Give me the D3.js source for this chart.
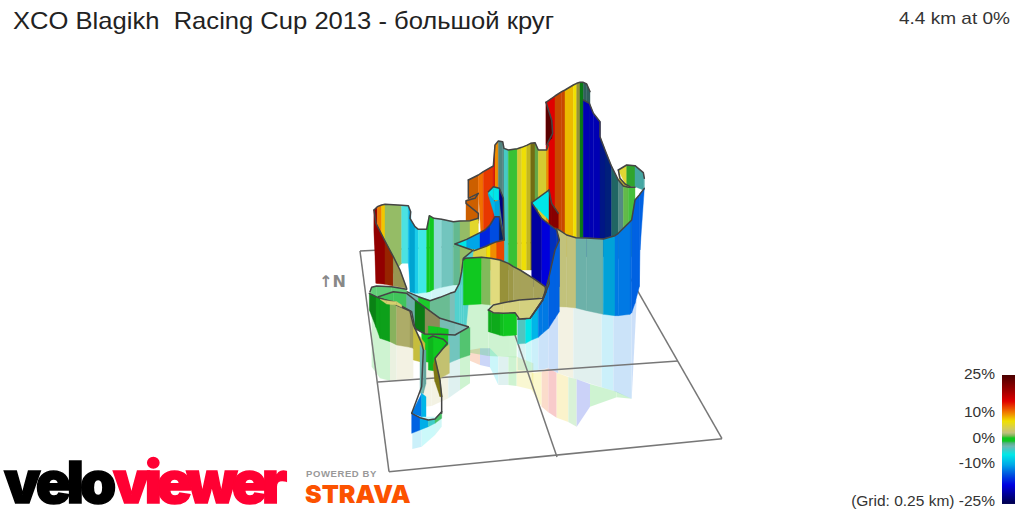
<!DOCTYPE html>
<html><head><meta charset="utf-8">
<style>html,body{margin:0;padding:0;background:#fff;overflow:hidden}text{font-family:"Liberation Sans",Arial,sans-serif}</style>
<script src="https://cdnjs.cloudflare.com/ajax/libs/d3/7.8.5/d3.min.js"></script>
</head><body><svg id="c" width="1024" height="512"></svg>
<script>
const gradStops=[-25,-21.7,-17.8,-13.8,-9.9,-5.9,-2.6,-1.3,-0.6,0,0.6,1.3,2.6,4.6,7.2,11,15,19,25];
const gradColors=["#00004d","#000090","#0000e0","#0050e0","#00a8e8","#00e8e8","#70b8b0","#50b080","#10c820","#10c820","#10c820","#70b850","#c0c080","#d8d050","#f0e000","#f07000","#e00000","#a00000","#4d0000"];
const legendLabels=["25%","10%","0%","-10%","(Grid: 0.25 km) -25%"];
const legendLabelY=[379,417,443,468,506];
const rfWallX=[150,215,290],rfWallT=[100,100,90],rfWallB=[152,150,120],rfWallG=[-6,-5];
const rfTallX=[515,545,565,590,625,650,690,770,815],rfTallT=[370,365,355,368,381,388,402,425,446],rfTallB=[420,470,487,503,516,530,470,442,446],rfTallG=[7,12,15,8,1,-16,0,0];
const rfMidX=[330,360,390,415,445,470,520],rfMidT=[300,295,295,320,320,320,340],rfMidB=[332,345,352,405,405,408,420],rfMidG=[12,-15,-7,-3,0.5,6];
const rfGreenX=[312,385,470],rfGreenT=[160,160,200],rfGreenB=[305,318,322],rfGreenG=[0,0];
const rfRightX=[473,497,515,535,565,595,640,725,760,815,830],rfRightT=[250,250,250,250,200,160,160,160,160,160,150],rfRightB=[360,362,362,360,355,370,385,412,422,446,150],rfRightG=[-3.5,-6,-9,-12,-13,3,-2.6,-9,-12,-13];
const rfLeftX=[35,60,90,110,160],rfLeftT=[180,230,260,270,280],rfLeftB=[350,385,392,392,385],rfLeftG=[0,0,2,3];
const rfCoreX=[190,215,265,300,330],rfCoreT=[300,320,320,300,300],rfCoreB=[470,468,445,420,400],rfCoreG=[3,3,-3,0];
const rfNarrowX=[157,185,225,245],rfNarrowT=[500,500,500,500],rfNarrowB=[597,590,555,530],rfNarrowG=[-9,-6,-5];
const curlX=[775,800,825,850,853],curlT=[-240,-255,-253,-232,-215],curlB=[-240,-190,-190,-180,-180],curlG=[5.5,0.9,-3.5,-3.5],curlL=[1,.85,.85,.85];
const curlInX=[775,780,795,810],curlInT=[-240,-215,-198,-190],curlInB=[-240,-188,-188,-188],curlInG=[5.5,5.5,5.5],curlInL=[.85,.85,.85];
const tallX=[558,585,605,615,640,650,660,670,680,690],tallT=[-443,-462,-475,-480,-495,-500,-503,-503,-498,-475],tallB=[20,20,20,20,20,20,20,20,20,20],tallG=[15,12,12,8.4,7.2,4.6,0,-3,-3],tallL=[1,.85,.85,.98,1,.7,.62,.5,.5];
const tallBX=[670,688,700,720,720,735,755,775,790,805,825],tallBT=[-450,-440,-410,-385,-340,-300,-250,-210,-192,-188,-188],tallBB=[20,20,20,20,20,20,20,20,20,20,20],tallBG=[-19,-19,-19,-19,-16,-15,-4,-2.6,1.2,1],tallBL=[.9,.9,.9,.9,.6,.55,.5,.75,1,1];
const foldX=[558,575,578],foldT=[-443,-390,-350],foldB=[-315,-335,-350],foldG=[24,24],foldL=[1,1];
const zigX=[318,355],zigT=[-148,-170],zigB=[-80,-80],zigG=[11],zigL=[.85];
const midX=[325,355,370,400,405,415,428,432,445,472,485,500,512,525,535,560,565],midT=[-210,-225,-235,-252,-315,-327,-325,-305,-300,-304,-308,-314,-320,-322,-300,-300,-315],midB=[-155,-170,60,60,60,60,60,60,60,60,60,60,60,60,60,60,60],midG=[11,11,13,16,10,-2.6,-2.6,-3.8,0.9,5.5,7,6,6,1.3,5.5,10],midL=[.85,1,1,1,1,.72,.72,1,1,.95,1,.85,.5,.9,.95,1];
const towerX=[590,620,648,680,730,765,775,810,815,825,838,840,853],towerT=[-65,-45,-37,-36,-33,-43,-50,-85,-90,-150,-165,-168,-185],towerB=[170,171,174,182,193,197,197,193,188,160,110,0,-185],towerG=[2.8,2.8,-2.6,-2.6,-9.5,-12,-12,-12.5,-13,-13,-13,-13],towerL=[1,1,.96,.96,.93,1,1,1,1,1,1,1];
const triX=[515,567],triT=[-142,-180],triB=[-142,-90],triG=[-6],triL=[1];
const brownX=[567,575,595],brownT=[-180,-140,-110],brownB=[-80,-70,-65],brownG=[17,17],brownL=[.7,.7];
const wallX=[515,545,570,590,598],wallT=[-142,-95,-75,-60,-30],wallB=[110,110,110,110,110],wallG=[-20,-18,-15,-15],wallL=[.9,1,.85,.85];
const backX=[42,52,65,75,125,145,152,150,165,175,200,208,222,245,280,300,330,355],backT=[-120,-130,-135,-137,-134,-133,-115,-95,-70,-62,-62,-103,-95,-92,-85,-87,-88,-95],backB=[-60,100,100,100,40,40,125,126,130,130,127,125,118,112,105,105,100,100],backG=[20,10.5,8,1.9,-5,-9,-9,-9,-8,-5.5,0,0.2,-3.5,-3,-1.4,1.9,5.8],backL=[1,1,1,1,1.2,1,.9,.9,1.1,1.2,1,1,1.35,1.1,1.1,1,1];
const redX=[42,48,75,100,120,140],redT=[-120,-80,-27,20,60,115],redB=[-60,100,103,108,112,115],redG=[20,20,13,3.5,3.5],redL=[1,1,.65,.75,.75];
const loopX=[385,400,418,430,432],loopT=[-175,-190,-185,-155,-30],loopB=[-170,-150,-150,-60,-30],loopG=[-6,-6,-20,-20],loopL=[1,1,.7,.7];
const loopCX=[385,405,418],loopCT=[-170,-145,-150],loopCB=[-165,-100,-60],loopCG=[-9,-9.5],loopCL=[1,.95];
const blueX=[285,320,360,375,390,405,418,432],blueT=[-18,-32,-52,-60,-75,-100,-100,-30],blueB=[-18,-5,0,-5,-10,-15,-22,-30],blueG=[-6,-10,-16,-16,-14,-14,-14],blueL=[1,1,1,1,1,1,.45];
const sunX=[335,380,392,410,432],sunT=[5,-12,-18,-25,-30],sunB=[60,60,60,60,60],sunG=[5,7.2,10,12.5],sunL=[1,1,1,1];
const greenX=[310,315,365,392,420,445,460,480,520,555,558],greenT=[30,25,22,25,30,40,50,60,85,110,125],greenB=[165,165,162,165,160,155,152,150,147,140,125],greenG=[0,0,1.6,4.5,4.5,4,3.4,3.4,3.4,3.4],greenL=[1,1,1,1.25,.7,.75,.82,.82,.82,.82];
const paleX=[385,400,430,465,478,510,548,558],paleT=[180,165,158,152,150,148,145,125],paleB=[180,188,190,188,207,205,150,125],paleG=[3.6,3.6,3.6,3.6,3.6,3.6,3.6],paleL=[1.15,1.15,1.15,1.15,1.15,1.15,1.15];
const lipX=[385,395,420,430,470],lipT=[180,188,190,190,188],lipB=[245,248,256,258,255],lipG=[0,0,0,0],lipL=[.85,.85,.95,1];
const frontX=[473,497,515,535,548,566,585,598],frontT=[207,206,198,170,150,85,0,-30],frontB=[282,280,270,262,250,235,205,185],frontG=[-3.5,-6,-9,-12,-12,-13,-13],frontL=[1,1,1,1,1,1,1];
const coreX=[140,175,210,240,270,285,298,305,310,340],coreT=[125,140,152,142,130,125,100,65,25,0],coreB=[175,210,250,255,320,330,325,320,320,0],coreG=[-2.6,-0.3,-1.3,-1.3,-2.6,-4,-4,-4,-4],coreL=[1,1.05,1.15,1.15,1.1,1.1,1.1,1.1,1.1];
const topStripX=[30,35,50,95,140],topStripT=[125,112,108,110,118],topStripB=[125,135,140,125,130],topStripG=[-0.9,-0.9,-0.9,-0.9],topStripL=[1.25,1.25,1.25,1.25];
const tailX=[185,265,300,330],tailT=[250,250,245,232],tailB=[335,340,325,315],tailG=[0,-3,-1],tailL=[1,1.1,1.15];
const bandX=[55,100,140,155,165,195,240,285,325],bandT=[140,125,130,142,150,172,205,218,230],bandB=[145,155,177,185,235,252,253,255,232],bandG=[-0.9,-0.9,-2.6,-2.6,0,2.8,-2.6,-2.6],bandL=[1.1,1.1,.95,.95,.62,.72,1.05,1.1];
const bandLowX=[205,235,265],bandLowT=[228,232,238],bandLowB=[252,253,254],bandLowG=[0,0],bandLowL=[1,1];
const spotX=[60,80,110,125],spotT=[148,152,155,165],spotB=[148,162,165,172],spotG=[4,4,4],spotL=[1.1,1.1,1.1];
const sideX=[28,48,60,90,110,150,160,165],sideT=[130,140,145,155,165,183,225,235],sideB=[180,232,265,275,285,292,295,300],sideG=[0,0,0,1.8,3,3,3],sideL=[.65,.8,.8,.95,.88,.8,.8];
const oliveX=[160,180,195],oliveT=[235,260,280],oliveB=[330,335,335],oliveG=[5,5],oliveL=[.9,.9];
const stemX=[180,190,198],stemT=[285,300,300],stemB=[430,430,400],stemG=[-2.6,-2.6],stemL=[1,.9];
const sprigX=[205,220,250,262],sprigT=[265,258,268,280],sprigB=[360,362,340,280],sprigG=[0,0,0],sprigL=[.9,1,1];
const flagX=[225,240,268],flagT=[325,305,283],flagB=[385,385,370],flagG=[3.2,3.2],flagL=[.98,.98];
const goldX=[220,225,240,247],goldT=[345,325,390,440],goldB=[355,395,440,440],goldG=[6,6,6],goldL=[.55,.55,.55];
const diveX=[155,185,198],diveT=[490,430,440],diveB=[490,500,500],diveG=[-12,-9],diveL=[1,1];
const footX=[155,180,205,225,245],footT=[490,503,510,507,485],footB=[550,540,530,520,505],footG=[-13,-9.5,-4,-1],footL=[1,1,1,1.1];
const edgeZig=[[325,-210],[325,-155],[355,-170],[345,-155],[318,-148],[318,-140],[355,-110],[355,-90]];
const edgeFold=[[558,-443],[575,-390],[578,-350],[560,-315]];
const edgeBlue=[[285,-18],[335,0]];
const edgeFront=[[566,85],[568,100],[548,150],[510,205]];
const edgeLoop=[[155,490],[185,410],[190,300],[185,280],[165,235]];
const edgeLoopR=[[205,265],[218,258],[250,268],[262,280],[225,325],[240,390],[245,440],[245,490]];
const title="XCO Blagikh  Racing Cup 2013 - большой круг";
const summary="4.4 km at 0%";
const svg=d3.select("#c");
const x=d3.scaleLinear().domain([0,900]).range([360,660]);
const y=d3.scaleLinear().domain([0,600]).range([250,450]);
const ramp=d3.scaleLinear().domain(gradStops).range(gradColors).clamp(true);
const shade=(g,l)=>l===1?ramp(g):d3.interpolateRgb(ramp(g),l<1?"#000":"#fff")(l<1?1-l:(l-1));
const bandShape=d3.area().x(d=>x(d.x)).y0(d=>y(d.t)).y1(d=>y(d.b));
const rim=d3.line().x(d=>x(d[0])).y(d=>y(d[1]));
function reflection(X,T,B,G){
  const g=svg.append("g").attr("opacity",.2);
  g.selectAll("path").data(G).join("path")
   .attr("d",(_,i)=>bandShape([{x:X[i],t:T[i],b:B[i]},{x:X[i+1],t:T[i+1],b:B[i+1]}]))
   .attr("fill",d=>ramp(d));
}
function ribbon(X,T,B,G,L,outlined=true){
  const g=svg.append("g");
  g.selectAll("path").data(G).join("path")
   .attr("d",(_,i)=>bandShape([{x:X[i],t:T[i],b:B[i]},{x:X[i+1],t:T[i+1],b:B[i+1]}]))
   .attr("fill",(d,i)=>shade(d,L[i])).attr("stroke",(d,i)=>shade(d,L[i])).attr("stroke-width",.4);
  if(outlined) edge(X.map((v,i)=>[v,T[i]]));
}
function edge(pts){
  svg.append("path").attr("d",rim(pts)).attr("fill","none").attr("stroke","#444").attr("stroke-width",1.5).attr("stroke-linejoin","round").attr("stroke-linecap","round");
}
reflection(rfWallX,rfWallT,rfWallB,rfWallG);
reflection(rfTallX,rfTallT,rfTallB,rfTallG);
reflection(rfMidX,rfMidT,rfMidB,rfMidG);
reflection(rfGreenX,rfGreenT,rfGreenB,rfGreenG);
reflection(rfRightX,rfRightT,rfRightB,rfRightG);
reflection(rfLeftX,rfLeftT,rfLeftB,rfLeftG);
reflection(rfCoreX,rfCoreT,rfCoreB,rfCoreG);
reflection(rfNarrowX,rfNarrowT,rfNarrowB,rfNarrowG);
const gridPts={left:[[0,3],[87,665]],back:[[0,3],[744,-33]],front:[[87,665],[1086,566]],mid:[[54,396],[954,333]],right:[[744,-33],[1086,566]],split:[[372,-15],[591,621]]};
Object.values(gridPts).forEach(p=>svg.append("path").attr("d",rim(p)).attr("fill","none").attr("stroke","#777").attr("stroke-width",1.5));
ribbon(curlX,curlT,curlB,curlG,curlL);
ribbon(curlInX,curlInT,curlInB,curlInG,curlInL);
ribbon(tallX,tallT,tallB,tallG,tallL);
ribbon(tallBX,tallBT,tallBB,tallBG,tallBL);
ribbon(foldX,foldT,foldB,foldG,foldL,false);
edge(edgeFold);
ribbon(zigX,zigT,zigB,zigG,zigL,false);
ribbon(midX,midT,midB,midG,midL);
edge(edgeZig);
ribbon(towerX,towerT,towerB,towerG,towerL);
ribbon(triX,triT,triB,triG,triL);
ribbon(brownX,brownT,brownB,brownG,brownL);
ribbon(wallX,wallT,wallB,wallG,wallL);
ribbon(backX,backT,backB,backG,backL);
ribbon(redX,redT,redB,redG,redL);
ribbon(loopX,loopT,loopB,loopG,loopL);
ribbon(loopCX,loopCT,loopCB,loopCG,loopCL,false);
ribbon(blueX,blueT,blueB,blueG,blueL);
ribbon(sunX,sunT,sunB,sunG,sunL);
edge(edgeBlue);
ribbon(coreX,coreT,coreB,coreG,coreL);
ribbon(greenX,greenT,greenB,greenG,greenL);
ribbon(lipX,lipT,lipB,lipG,lipL,false);
ribbon(frontX,frontT,frontB,frontG,frontL);
ribbon(paleX,paleT,paleB,paleG,paleL);
edge(paleX.map((v,i)=>[v,paleB[i]]));
edge(edgeFront);
ribbon(topStripX,topStripT,topStripB,topStripG,topStripL);
ribbon(tailX,tailT,tailB,tailG,tailL,false);
ribbon(bandX,bandT,bandB,bandG,bandL);
ribbon(bandLowX,bandLowT,bandLowB,bandLowG,bandLowL,false);
edge(bandX.map((v,i)=>[v,bandB[i]]));
ribbon(sideX,sideT,sideB,sideG,sideL);
ribbon(spotX,spotT,spotB,spotG,spotL,false);
ribbon(oliveX,oliveT,oliveB,oliveG,oliveL,false);
ribbon(stemX,stemT,stemB,stemG,stemL,false);
ribbon(sprigX,sprigT,sprigB,sprigG,sprigL,false);
ribbon(flagX,flagT,flagB,flagG,flagL,false);
ribbon(goldX,goldT,goldB,goldG,goldL,false);
ribbon(diveX,diveT,diveB,diveG,diveL,false);
ribbon(footX,footT,footB,footG,footL);
edge(edgeLoop);edge(edgeLoopR);
// header
svg.append("text").attr("x",13).attr("y",29).attr("font-size",24).attr("fill","#222").attr("textLength",541).attr("lengthAdjust","spacingAndGlyphs").style("white-space","pre").text(title);
svg.append("text").attr("x",899).attr("y",24).attr("font-size",17).attr("fill","#333").attr("textLength",111).attr("lengthAdjust","spacingAndGlyphs").text(summary);
svg.append("text").attr("x",319).attr("y",287).attr("font-size",16).attr("font-weight",700).attr("fill","#888").style("font-family","DejaVu Sans").text("↑N");
// legend
const lg=d3.scaleLinear().domain([25,-25]).range([375,503]);
svg.append("g").selectAll("rect").data(d3.range(25,-25,-.4)).join("rect")
 .attr("x",1002).attr("width",13).attr("y",d=>lg(d)).attr("height",2).attr("fill",d=>ramp(d));
svg.append("g").selectAll("text").data(legendLabels).join("text")
 .attr("x",995).attr("y",(d,i)=>legendLabelY[i]).attr("text-anchor","end").attr("font-size",15.5).attr("fill","#333").text(d=>d);
// logos
const brand=(t,xp,col,ls)=>svg.append("text").attr("x",xp).attr("y",503).attr("font-size",58).attr("font-weight",900).attr("fill",col).attr("stroke",col).attr("stroke-width",1.5).style("letter-spacing",ls+"px").style("font-family","Inter").text(t);
brand("velo",4,"#000",-4);
brand("viewer",113,"#ff0033",-5);
svg.append("text").attr("x",306).attr("y",477).attr("font-size",9.5).attr("font-weight",700).attr("fill","#999").style("letter-spacing","0.6px").text("POWERED BY");
svg.append("text").attr("x",305).attr("y",503).attr("font-size",25).attr("font-weight",900).attr("fill","#fc5200").style("font-family","Inter").text("STRAVA");
</script></body></html>
